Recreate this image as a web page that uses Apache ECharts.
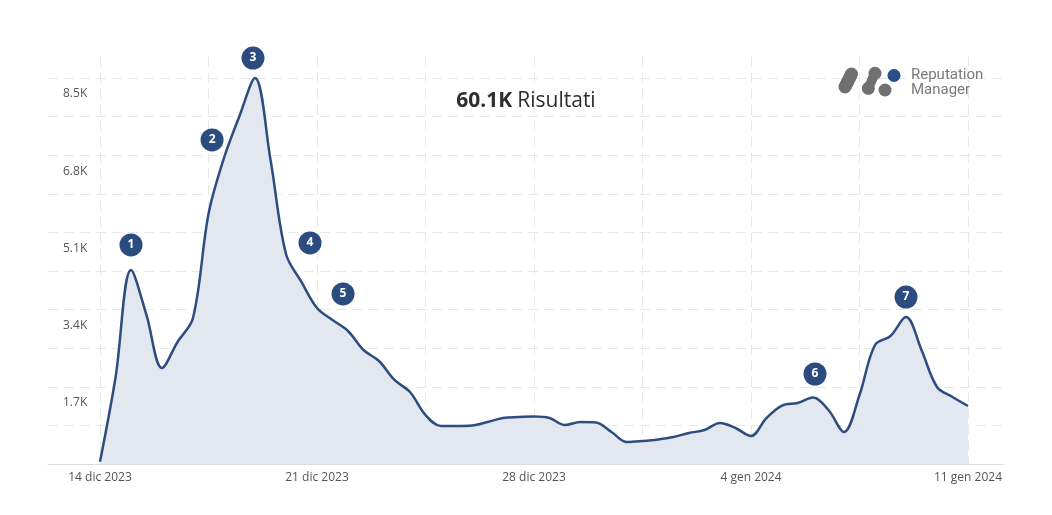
<!DOCTYPE html>
<html><head><meta charset="utf-8">
<script src="https://cdn.jsdelivr.net/npm/echarts@6/dist/echarts.min.js"></script>
<style>html,body{margin:0;padding:0;background:#fff}#c{width:1052px;height:515px}</style>
</head><body><div id="c"></div>
<script>
// x: half-day steps from 14 dic 2023 (0) to 11 gen 2024 (56)
const dateLabels = ['14 dic 2023', '21 dic 2023', '28 dic 2023', '4 gen 2024', '11 gen 2024'];
const values = [
  50, 1900, 4272, 3281, 2114, 2686, 3215, 5505, 6740, 7663,
  8500, 6700, 4624, 4008, 3435, 3171, 2929, 2510, 2268, 1850,
  1585, 1079, 837, 837, 848, 925, 1013, 1035, 1046, 1013,
  859, 925, 914, 705, 484, 506, 540, 594, 683, 749,
  903, 793, 617, 1013, 1288, 1343, 1464, 1189, 705, 1519,
  2620, 2819, 3237, 2510, 1696, 1475, 1277
];
const yLabelValues = [1700, 3400, 5100, 6800, 8500];
const yLabelTexts = ['1.7K', '3.4K', '5.1K', '6.8K', '8.5K'];
const annotationNumbers = ['1', '2', '3', '4', '5', '6', '7'];
const annotationX = [2.0, 7.23, 9.87, 13.55, 15.68, 46.13, 52.0];
const annotationY = [4823, 7135, 8940, 4867, 3744, 1982, 3677];
const titleValue = '60.1K';
const titleText = 'Risultati';

const Y_MAX = 8500;
const GRID_BOTTOM = 51, GRID_TOP = 78, DATA_TOP = 57;
const plotH = 515 - GRID_BOTTOM - GRID_TOP;
const dataH = 515 - GRID_BOTTOM - DATA_TOP;
const dataYMax = Y_MAX * dataH / plotH;

const chart = echarts.init(document.getElementById('c'), null, {renderer: 'canvas'});
const dash = {color: '#e8e8e8', width: 1, type: [10, 6]};
const seriesData = values.map((v, i) => [i, v]);
const annData = annotationNumbers.map((n, i) => ({value: [annotationX[i], annotationY[i]], name: n}));
const logoGray = '#707072';

// logo: capsules built from chains of circles
function chain(x1, y1, x2, y2, r, rMid, color) {
  const out = [];
  const n = 8;
  for (let k = 0; k <= n; k++) {
    const t = k / n;
    const rr = (k === 0 || k === n) ? r : rMid;
    out.push({type: 'circle', z: 100, shape: {cx: x1 + (x2 - x1) * t, cy: y1 + (y2 - y1) * t, r: rr}, style: {fill: color}});
  }
  return out;
}
const logo = [].concat(
  chain(845, 87, 851.5, 74, 6.5, 6.5, logoGray),
  chain(868.3, 88.3, 875, 73.3, 6.5, 4.8, logoGray),
  [{type: 'circle', z: 100, shape: {cx: 885, cy: 90, r: 6.5}, style: {fill: logoGray}},
   {type: 'circle', z: 100, shape: {cx: 894, cy: 75.5, r: 6.5}, style: {fill: '#2a4d8c'}},
   {type: 'text', z: 100, left: 911, top: 68, style: {text: 'Reputation\nManager', fontFamily: 'Roboto', fontSize: 15, lineHeight: 15, fill: '#7a7a7a'}}]
);

chart.setOption({
  animation: false,
  backgroundColor: '#fff',
  title: {
    text: '{b|' + titleValue + '} {n|' + titleText + '}',
    left: 'center', top: 86,
    textStyle: {rich: {
      b: {fontFamily: 'Open Sans', fontWeight: 'bold', fontSize: 21, color: '#2e2e2e'},
      n: {fontFamily: 'Open Sans', fontWeight: 'normal', fontSize: 21, color: '#2e2e2e'}
    }}
  },
  grid: [
    {left: 48, right: 49, top: GRID_TOP, bottom: GRID_BOTTOM},
    {left: 100, right: 84, top: DATA_TOP, bottom: GRID_BOTTOM}
  ],
  xAxis: [
    {gridIndex: 0, type: 'value', min: 0, max: 1, axisLine: {show: true, lineStyle: {color: '#dcdcdc', width: 1}},
     axisTick: {show: false}, axisLabel: {show: false}, splitLine: {show: false}},
    {gridIndex: 1, type: 'value', min: 0, max: 56, interval: 7,
     axisLine: {show: false}, axisTick: {show: false},
     splitLine: {show: true, lineStyle: dash},
     axisLabel: {margin: 8, color: '#555', fontFamily: 'Open Sans', fontSize: 12,
       formatter: v => (v % 14 === 0 ? dateLabels[v / 14] : '')}}
  ],
  yAxis: [
    {gridIndex: 0, type: 'value', min: 0, max: Y_MAX, interval: 850,
     axisLine: {show: false}, axisTick: {show: false},
     splitLine: {show: true, lineStyle: dash},
     axisLabel: {inside: true, margin: 15, color: '#555', fontFamily: 'Open Sans', fontSize: 12,
       verticalAlign: 'top', padding: [10, 0, 0, 0],
       formatter: v => { const k = yLabelValues.indexOf(Math.round(v)); return k >= 0 ? yLabelTexts[k] : ''; }}},
    {gridIndex: 1, type: 'value', min: 0, max: dataYMax, show: false, splitLine: {show: false}}
  ],
  graphic: logo,
  series: [
    {type: 'line', xAxisIndex: 1, yAxisIndex: 1, data: seriesData, smooth: 0.35,
     symbol: 'none', lineStyle: {color: '#2d4c7f', width: 2.5},
     areaStyle: {color: '#e3e8f0', opacity: 1}, z: 3},
    {type: 'scatter', xAxisIndex: 1, yAxisIndex: 1, data: annData, symbolSize: 23, clip: false,
     itemStyle: {color: '#2c4c80', opacity: 1}, z: 5,
     label: {show: true, position: 'inside', formatter: p => p.name, color: '#fff', fontWeight: 'bold', fontSize: 12, fontFamily: 'Open Sans'}}
  ]
});
</script></body></html>
